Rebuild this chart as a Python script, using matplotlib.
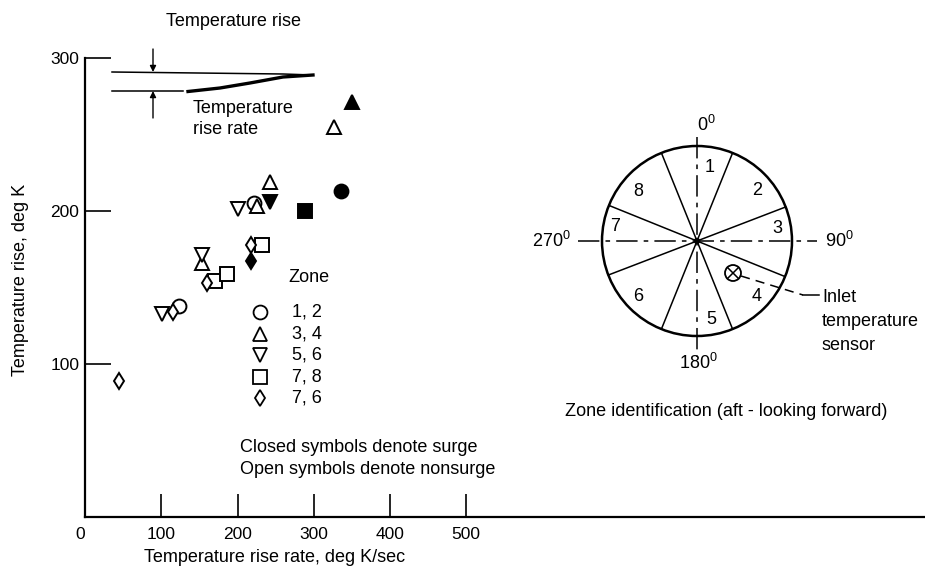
import matplotlib
matplotlib.use('Agg')
import numpy as np
import matplotlib.pyplot as plt
from matplotlib.patches import Circle

plt.rcParams['font.family'] = ['Liberation Sans', 'DejaVu Sans']
plt.rcParams['font.size'] = 13
plt.rcParams['mathtext.fontset'] = 'custom'
plt.rcParams['mathtext.rm'] = 'Liberation Sans'
plt.rcParams['mathtext.default'] = 'rm'

# Data (rise rate deg K/sec, rise deg K, closed = surge)
zone_12_rate = [123, 222, 336]
zone_12_rise = [138, 205, 213]
zone_12_surge = [False, False, True]

zone_34_rate = [153, 226, 242, 326, 350]
zone_34_rise = [166, 203, 219, 255, 271]
zone_34_surge = [False, False, False, False, True]

zone_56_rate = [101, 153, 200, 242]
zone_56_rise = [133, 171, 201, 206]
zone_56_surge = [False, False, False, True]

zone_78_rate = [171, 186, 232, 288]
zone_78_rise = [154, 159, 178, 200]
zone_78_surge = [False, False, False, True]

zone_76_rate = [44, 116, 160, 218, 218]
zone_76_rise = [89, 134, 153, 178, 167]
zone_76_surge = [False, False, False, False, True]

zone_labels = ['1, 2', '3, 4', '5, 6', '7, 8', '7, 6']
zone_markers = ['o', '^', 'v', 's', 'd']
zone_sizes = [10, 10.5, 10.5, 10, 8]

x_ticks = [0, 100, 200, 300, 400, 500]
y_ticks = [100, 200, 300]

# zone diagram: sector numbers and their polar positions (deg clockwise from top, px)
sector_names = ['1', '2', '3', '4', '5', '6', '7', '8']
sector_angles = [10, 50, 81, 133, 170, 227, 280, 310]
sector_radii = [75, 78, 81, 81, 80, 81, 83, 77]
boundary_angles = [22, 69, 112, 158]

series = [
    (zone_12_rate, zone_12_rise, zone_12_surge),
    (zone_34_rate, zone_34_rise, zone_34_surge),
    (zone_56_rate, zone_56_rise, zone_56_surge),
    (zone_78_rate, zone_78_rise, zone_78_surge),
    (zone_76_rate, zone_76_rise, zone_76_surge),
]

fig = plt.figure(figsize=(9.25, 5.72), dpi=100)
fig.patch.set_facecolor('white')

ax = fig.add_axes([85 / 925, 55 / 572, 840 / 925, 459 / 572])
ax.set_xlim(0, 840 / 0.7625)
ax.set_ylim(0, 300)

for (xs, ys, closed), m, ms in zip(series, zone_markers, zone_sizes):
    for x, y, c in zip(xs, ys, closed):
        ax.plot(x, y, marker=m, ms=ms, mfc='black' if c else 'white',
                mec='black', mew=1.4, ls='none', zorder=3)

for side in ['top', 'right']:
    ax.spines[side].set_visible(False)
for side in ['left', 'bottom']:
    ax.spines[side].set_linewidth(1.6)

ax.set_xticks(x_ticks)
ax.set_xticklabels([str(t) for t in x_ticks])
ax.set_yticks(y_ticks)
ax.set_yticklabels([str(t) for t in y_ticks])
ax.tick_params(axis='x', direction='in', length=16.5, width=1.2, pad=7, labelsize=12.5)
ax.tick_params(axis='y', direction='in', length=18.7, width=1.2, pad=4, labelsize=12.5)
ax.get_xticklabels()[0].set_ha('right')

ax.set_xlabel('Temperature rise rate, deg K/sec')
ax.xaxis.set_label_coords(0.226, -0.07)
ax.set_ylabel('Temperature rise, deg K')
ax.yaxis.set_label_coords(-0.067, 0.516)

# overlay in pixel coordinates for the annotations and zone diagram
ov = fig.add_axes([0, 0, 1, 1])
ov.set_xlim(0, 925)
ov.set_ylim(572, 0)
ov.set_axis_off()

# schematic of the two traces
ov.text(233, 21, 'Temperature rise', ha='center', va='center')
ov.plot([112, 283, 313], [72, 74, 75], color='black', lw=1.1)
ov.plot([112, 183], [90.5, 90.5], color='black', lw=1.1)
ov.plot([188, 220, 250, 283, 313], [91.5, 88, 83, 77, 75], color='black', lw=2.4)
ov.annotate('', xy=(153, 72), xytext=(153, 49),
            arrowprops=dict(arrowstyle='-|>', color='black', lw=1, mutation_scale=9,
                            shrinkA=0, shrinkB=0))
ov.annotate('', xy=(153, 91), xytext=(153, 118),
            arrowprops=dict(arrowstyle='-|>', color='black', lw=1, mutation_scale=9,
                            shrinkA=0, shrinkB=0))
ov.text(193, 119, 'Temperature\nrise rate', ha='left', va='center', linespacing=1.25)

# zone legend
ov.text(309, 277, 'Zone', ha='center', va='center')
for i, (lab, m, ms) in enumerate(zip(zone_labels, zone_markers, zone_sizes)):
    yy = 312 + i * 21.6
    ov.plot(260, yy, marker=m, ms=ms, mfc='white', mec='black', mew=1.3, ls='none')
    ov.text(292, yy, lab, ha='left', va='center')

ov.text(240, 447, 'Closed symbols denote surge', ha='left', va='center')
ov.text(240, 470, 'Open symbols denote nonsurge', ha='left', va='center')

# zone identification diagram
cx, cy, r = 697, 241, 95
ov.add_patch(Circle((cx, cy), r, fill=False, ec='black', lw=1.8))
for a in boundary_angles:
    dx = r * np.sin(np.radians(a))
    dy = -r * np.cos(np.radians(a))
    ov.plot([cx - dx, cx + dx], [cy - dy, cy + dy], color='black', lw=1.1)
ov.plot([578, 817], [cy, cy], color='black', lw=1.1, ls=(0, (14, 4, 3, 4)))
ov.plot([cx, cx], [137, 357], color='black', lw=1.1, ls=(0, (14, 4, 3, 4)))
ov.add_patch(Circle((cx, cy), 2.5, color='black'))
for name, a, rr in zip(sector_names, sector_angles, sector_radii):
    ov.text(cx + rr * np.sin(np.radians(a)), cy - rr * np.cos(np.radians(a)), name,
            ha='center', va='center')

ov.text(706, 125, r'0$^{0}$', ha='center', va='center')
ov.text(825, 241, r'90$^{0}$', ha='left', va='center')
ov.text(698, 363, r'180$^{0}$', ha='center', va='center')
ov.text(571, 241, r'270$^{0}$', ha='right', va='center')

# inlet sensor
sx, sy, sr = 733, 273, 8
ov.add_patch(Circle((sx, sy), sr, fill=False, ec='black', lw=1.3))
k = sr * 0.707
ov.plot([sx - k, sx + k], [sy - k, sy + k], color='black', lw=1.1)
ov.plot([sx - k, sx + k], [sy + k, sy - k], color='black', lw=1.1)
ov.plot([sx + sr, 803], [sy + 3, 295], color='black', lw=1.1, ls=(0, (6, 4)))
ov.plot([803, 819], [295, 295], color='black', lw=1.1)
for i, line in enumerate(['Inlet', 'temperature', 'sensor']):
    ov.text(822, 297 + i * 24, line, ha='left', va='center')

ov.text(726, 412, 'Zone identification (aft - looking forward)', ha='center', va='center')

fig.savefig('out.png', dpi=100, facecolor='white')
